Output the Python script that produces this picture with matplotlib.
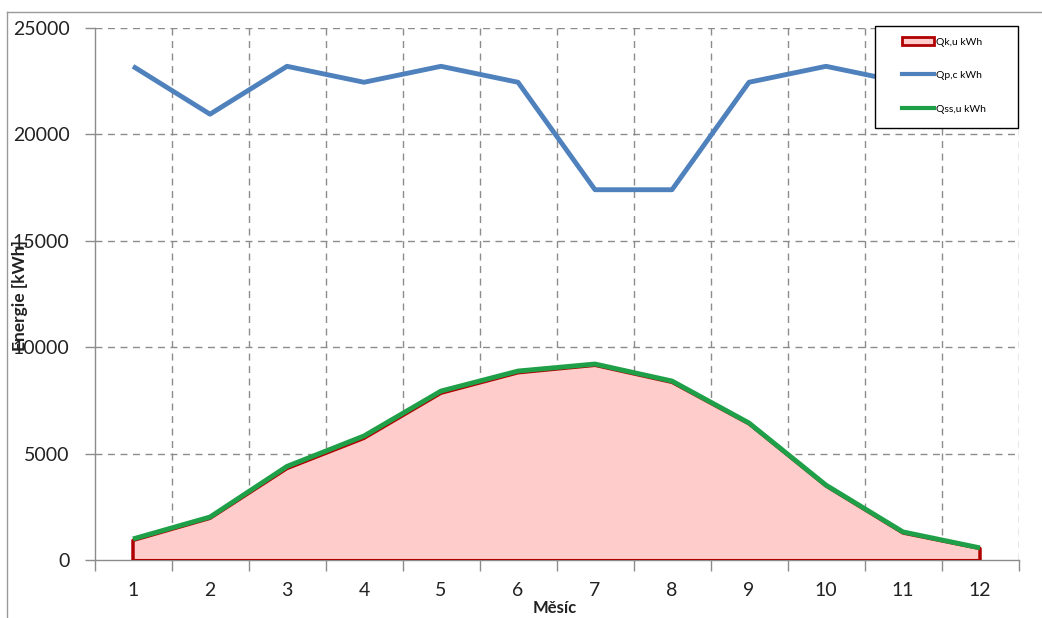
import numpy as np
import matplotlib
matplotlib.use("Agg")
import matplotlib.pyplot as plt
from matplotlib.patches import Patch, Rectangle
from matplotlib.lines import Line2D

MONTHS = list(range(1, 13))
Q_PC = [23200, 20950, 23200, 22450, 23200, 22450, 17400, 17400, 22450, 23200, 22450, 23200]
Q_SS = [990, 2020, 4400, 5830, 7940, 8880, 9210, 8410, 6440, 3520, 1320, 570]
Q_K = [920, 1960, 4300, 5720, 7840, 8800, 9150, 8350, 6400, 3480, 1270, 540]
LABELS = ["Qk,u kWh", "Qp,c kWh", "Qss,u kWh"]

plt.rcParams['font.family'] = ['Lato', 'DejaVu Sans']

W, H = 1042, 618
fig = plt.figure(figsize=(W / 100, H / 100), dpi=100)
ax = fig.add_axes([94.5 / W, 1 - 560 / H, 924 / W, 532 / H])

red_edge = '#B00000'
pink = '#FFCCCC'
blue = '#4F81BD'
green = '#1FA048'
grid_c = '#8C8C8C'

x = np.array(MONTHS)
ax.fill_between(x, 0, Q_K, facecolor=pink, edgecolor='none', zorder=2)
# outline of the area: left edge, top, right edge, bottom
ax.plot(np.r_[x[0], x, x[-1]], np.r_[0, Q_K, 0], color=red_edge, lw=2.5, zorder=3)
ax.plot(x, np.zeros_like(x), color=red_edge, lw=1.5, zorder=3)
ax.plot(x, Q_PC, color=blue, lw=3.5, zorder=4, solid_capstyle='butt')
ax.plot(x, Q_SS, color=green, lw=3.5, zorder=5, solid_capstyle='butt')

ax.set_xlim(0.5, 12.5)
ax.set_ylim(0, 25000)

ax.set_xticks(np.arange(0.5, 13, 1))
ax.set_xticklabels([])
ax.set_xticks(x, minor=True)
ax.set_xticklabels([str(m) for m in MONTHS], minor=True)
ax.tick_params(axis='x', which='major', length=8, color=grid_c, width=1)
ax.tick_params(axis='x', which='minor', length=0, pad=16, labelsize=14, labelcolor='#222222')
ax.set_yticks(np.arange(0, 25001, 5000))
ax.tick_params(axis='y', length=7, color=grid_c, width=1, pad=11, labelsize=14, labelcolor='#222222')

for v in np.arange(1.5, 12.6, 1):
    ax.axvline(v, color=grid_c, lw=1, ls=(0, (5, 4)), zorder=1)
for v in np.arange(5000, 25001, 5000):
    ax.axhline(v, color=grid_c, lw=1, ls=(0, (5, 4)), zorder=1)

for s in ['top', 'right']:
    ax.spines[s].set_visible(False)
for s in ['left', 'bottom']:
    ax.spines[s].set_color(grid_c)
    ax.spines[s].set_linewidth(1)

fig.text(20 / W, 1 - 296 / H, 'Energie [kWh]', rotation=90, ha='center', va='center',
         fontsize=12.5, fontweight='bold', color='#222222')
fig.text(555 / W, 1 - 608 / H, 'Měsíc', ha='center', va='center',
         fontsize=12, fontweight='bold', color='#222222')

# legend box
fig.add_artist(Rectangle((875 / W, 1 - 128 / H), 143 / W, 102 / H, transform=fig.transFigure,
                         facecolor='white', edgecolor='black', lw=1, zorder=5))
handles = [Patch(facecolor=pink, edgecolor=red_edge, lw=2),
           Line2D([], [], color=blue, lw=3),
           Line2D([], [], color=green, lw=3)]
leg = fig.legend(handles, LABELS, loc='upper left', bbox_to_anchor=(902 / W, 1 - 37 / H),
                 frameon=False, fontsize=7.5, handlelength=3.1, handleheight=0.8,
                 handletextpad=0.2, labelspacing=2.3, borderpad=0, borderaxespad=0)
leg.set_zorder(6)

# outer chart frame
fig.add_artist(Line2D([7 / W, 1], [1 - 12 / H, 1 - 12 / H], transform=fig.transFigure,
                      color='#999999', lw=1))
fig.add_artist(Line2D([7 / W, 7 / W], [0, 1 - 12 / H], transform=fig.transFigure,
                      color='#999999', lw=1))

fig.savefig('out.png', dpi=100)
